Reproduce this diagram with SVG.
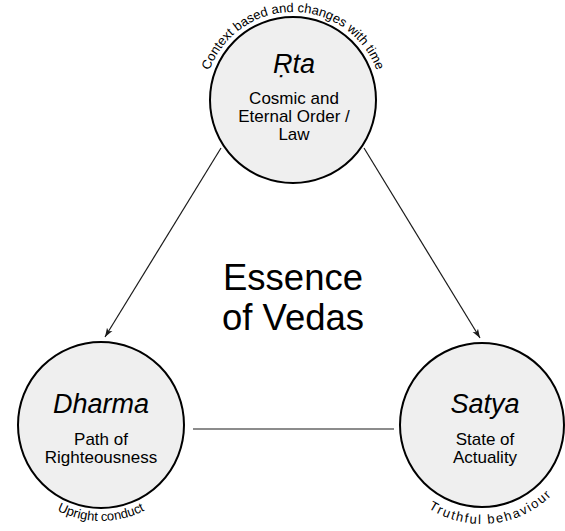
<svg xmlns="http://www.w3.org/2000/svg" width="565" height="531" viewBox="0 0 565 531">
  <style>
    .node { fill: #efefef; stroke: #000; stroke-width: 2; }
    .title { font-family: "Liberation Sans", Arial, sans-serif; font-style: italic; font-size: 27px; fill: #000; text-anchor: middle; }
    .sub { font-family: "Liberation Sans", Arial, sans-serif; font-size: 17px; fill: #000; text-anchor: middle; }
    .arc { font-family: "Liberation Sans", Arial, sans-serif; font-size: 13px; fill: #000; }
    .center { font-family: "Liberation Sans", Arial, sans-serif; font-size: 36.5px; fill: #000; text-anchor: middle; }
    .conn { stroke: #1a1a1a; stroke-width: 1.2; fill: none; }
  </style>
  <defs>
    <marker id="arrow" viewBox="0 0 10 10" refX="10" refY="5" markerWidth="9" markerHeight="9" markerUnits="userSpaceOnUse" orient="auto">
      <path d="M0,1.5 L10,5 L0,8.5 L2.5,5 Z" fill="#1a1a1a"/>
    </marker>
    <path id="arcTop" d="M 204,101 A 89 89 0 0 1 382,101"/>
    <path id="arcDharma" d="M 5,425 A 96 96 0 0 0 197,425"/>
    <path id="arcSatya" d="M 383,425 A 99 99 0 0 0 581,425"/>
  </defs>
  <rect width="565" height="531" fill="#fff"/>

  <g id="connectors">
    <line class="conn" x1="221" y1="148" x2="105" y2="337" marker-end="url(#arrow)"/>
    <line class="conn" x1="364" y1="148" x2="480" y2="338" marker-end="url(#arrow)"/>
    <line class="conn" x1="193" y1="429" x2="394" y2="429"/>
  </g>

  <g id="rta">
    <circle class="node" cx="293" cy="100" r="83"/>
    <text class="title" x="294" y="73">Ṛta</text>
    <text class="sub" x="294" y="104">Cosmic and</text>
    <text class="sub" x="294" y="122">Eternal Order /</text>
    <text class="sub" x="294" y="140">Law</text>
    <text class="arc"><textPath href="#arcTop" startOffset="50%" text-anchor="middle">Context based and changes with time</textPath></text>
  </g>

  <g id="dharma">
    <circle class="node" cx="101" cy="425" r="83"/>
    <text class="title" x="101" y="413">Dharma</text>
    <text class="sub" x="101" y="445">Path of</text>
    <text class="sub" x="101" y="463">Righteousness</text>
    <text class="arc" font-size="14"><textPath href="#arcDharma" startOffset="50%" text-anchor="middle">Upright conduct</textPath></text>
  </g>

  <g id="satya">
    <circle class="node" cx="482" cy="425" r="82"/>
    <text class="title" x="485" y="413">Satya</text>
    <text class="sub" x="485" y="445">State of</text>
    <text class="sub" x="485" y="463">Actuality</text>
    <text class="arc" font-size="14" letter-spacing="1.7"><textPath href="#arcSatya" startOffset="53.5%" text-anchor="middle">Truthful behaviour</textPath></text>
  </g>

  <g id="essence">
    <text class="center" x="293" y="290">Essence</text>
    <text class="center" x="293" y="330">of Vedas</text>
  </g>
</svg>
